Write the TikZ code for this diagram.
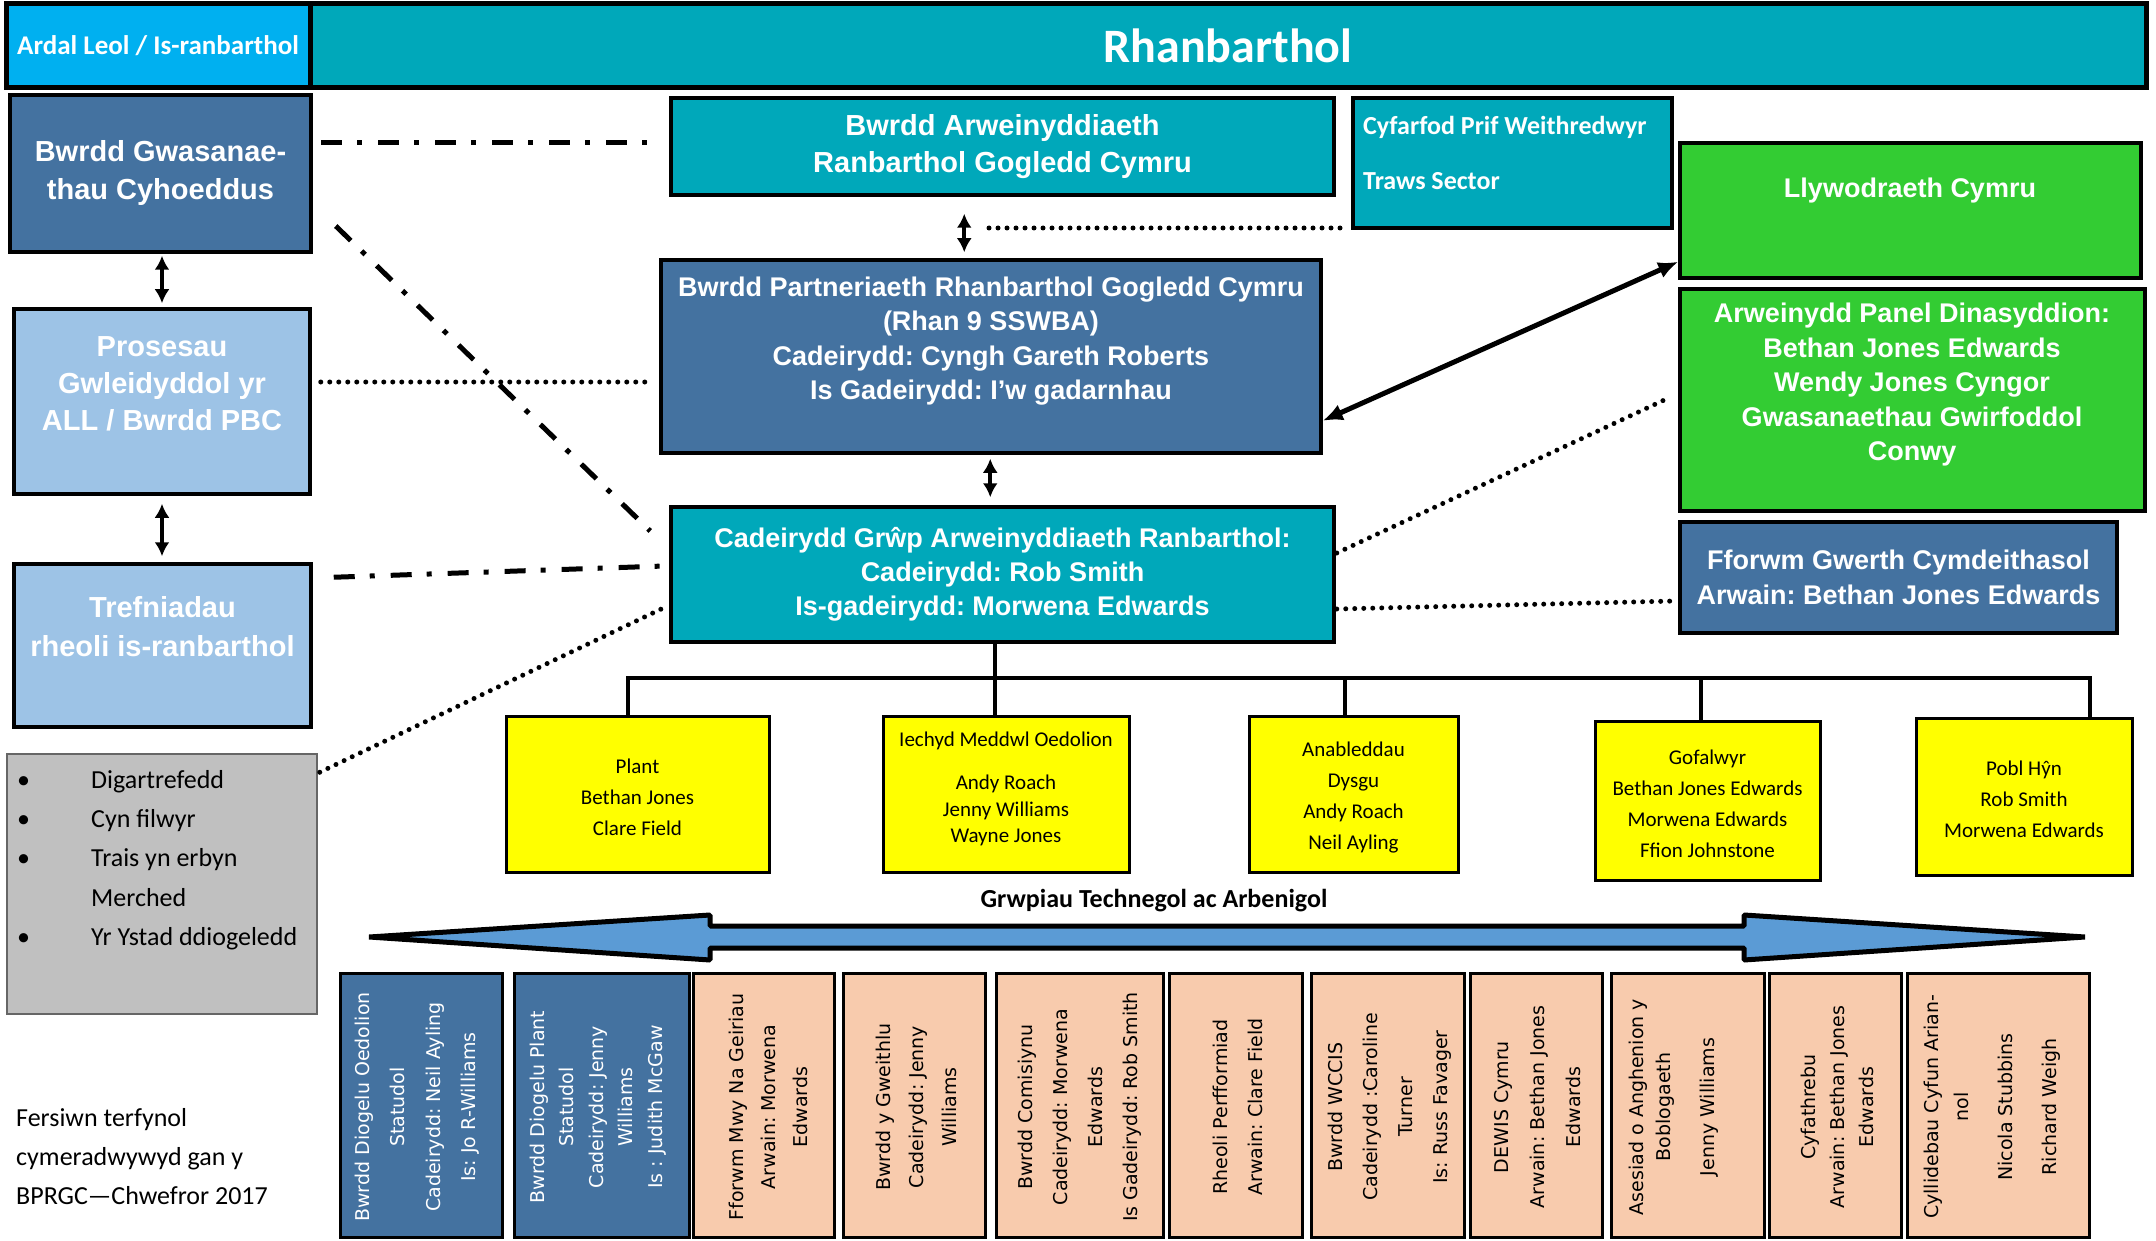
\documentclass[tikz,border=0pt]{standalone}
\usepackage{fontspec}
\setmainfont{Liberation Sans}
\newfontfamily\calfont{Carlito}
\newfontfamily\dvfont{DejaVu Sans}
\usetikzlibrary{arrows.meta,calc}
\definecolor{cCyan}{RGB}{0,176,240}
\definecolor{cTeal}{RGB}{0,168,186}
\definecolor{cSteel}{RGB}{68,114,160}
\definecolor{cLight}{RGB}{157,195,230}
\definecolor{cGreen}{RGB}{51,204,51}
\definecolor{cGray}{RGB}{192,192,192}
\definecolor{cYel}{RGB}{255,255,0}
\definecolor{cPeach}{RGB}{248,203,173}
\definecolor{cArrow}{RGB}{91,155,213}
\newcommand\rotfont[1]{\dvfont\fontsize{19}{#1}\selectfont}
\frenchspacing
\begin{document}
\frenchspacing
\begin{tikzpicture}[x=1pt,y=-1pt,
 box/.style={draw=black, line width=3.5pt, rectangle, inner sep=0pt},
 hd/.style={text=white, align=center, font=\bfseries\fontsize{29}{38}\selectfont},
 hs/.style={text=white, align=center, font=\bfseries\fontsize{27}{34.5}\selectfont},
 ylw/.style={box, line width=3pt, fill=cYel},
 yt/.style={align=center, inner sep=0pt, font=\calfont\fontsize{21}{31}\selectfont},
 bt/.style={box, line width=3pt, minimum height=264pt},
 rot/.style={rotate=90, align=center, inner sep=0pt},
 dbl/.style={line width=4pt, {Latex[length=14pt,width=15pt]}-{Latex[length=14pt,width=15pt]}},
 dotl/.style={line width=5pt, line cap=round, dash pattern=on 0pt off 9pt},
 ddot/.style={line width=5pt, dash pattern=on 21pt off 15pt on 5pt off 16pt},
 tree/.style={line width=4.5pt}
]
\fill[white] (0,0) rectangle (2156,1241);
\useasboundingbox (0,0) rectangle (2156,1241);

% banner
\node[box, line width=5pt, fill=cCyan, minimum width=304pt, minimum height=84pt, text=white,
      font=\calfont\bfseries\fontsize{27}{32}\selectfont] (banl) at (158,46) {Ardal Leol / Is-ranbarthol};
\node[box, line width=5pt, fill=cTeal, minimum width=1836pt, minimum height=84pt, text=white,
      font=\calfont\bfseries\fontsize{48}{56}\selectfont] (banr) at (1228,46) {Rhanbarthol};

% left column
\node[box, hd, fill=cSteel, minimum width=301pt, minimum height=157pt] (bgc) at (160.5,173.5) {Bwrdd Gwasanae-\\thau Cyhoeddus};
\node[box, fill=cLight, minimum width=296pt, minimum height=185pt] (pros) at (162,401.5) {};
\node[hd, font=\bfseries\fontsize{29}{37}\selectfont] (prosT) at (162,384) {Prosesau\\Gwleidyddol yr\\ALL / Bwrdd PBC};
\node[box, fill=cLight, minimum width=297pt, minimum height=163pt] (tref) at (162.5,645.5) {};
\node[hd, font=\bfseries\fontsize{29}{39}\selectfont] (trefT) at (162.5,627) {Trefniadau\\rheoli is-ranbarthol};
\node[draw=black!60, line width=1.5pt, fill=cGray, minimum width=310pt, minimum height=260pt, inner sep=0pt] (gray) at (162,884) {};
\node[anchor=north west, align=left, inner sep=0pt, font=\calfont\fontsize{26}{39.3}\selectfont] (grayT) at (17,770)
 {\makebox[74pt][l]{•}Digartrefedd\\\makebox[74pt][l]{•}Cyn filwyr\\\makebox[74pt][l]{•}Trais yn erbyn\\\makebox[74pt][l]{}Merched\\\makebox[74pt][l]{•}Yr Ystad ddiogeledd};
\node[anchor=north west, align=left, inner sep=0pt, font=\calfont\fontsize{26}{39}\selectfont] (fers) at (16,1108)
 {Fersiwn terfynol\\cymeradwywyd gan y\\BPRGC—Chwefror 2017};

% centre column
\node[box, hd, fill=cTeal, minimum width=663pt, minimum height=97pt, font=\bfseries\fontsize{29}{37.5}\selectfont] (bar) at (1002.5,146.5) {Bwrdd Arweinyddiaeth\\Ranbarthol Gogledd Cymru};
\node[box, fill=cTeal, minimum width=319pt, minimum height=130pt] (cpw) at (1512.5,163) {};
\node[anchor=west, align=left, inner sep=0pt, text=white, font=\calfont\bfseries\fontsize{26}{55}\selectfont] (cpwT) at (1363,153) {Cyfarfod Prif Weithredwyr\\Traws Sector};
\node[box, fill=cSteel, minimum width=660pt, minimum height=193pt] (bprg) at (991,356.5) {};
\node[hs] (bprgT) at (991,341) {Bwrdd Partneriaeth Rhanbarthol Gogledd Cymru\\(Rhan 9 SSWBA)\\Cadeirydd: Cyngh Gareth Roberts\\Is Gadeirydd: I’w gadarnhau};
\node[box, hs, fill=cTeal, minimum width=663pt, minimum height=135pt, font=\bfseries\fontsize{27}{34}\selectfont] (cga) at (1002.5,574.5) {Cadeirydd Grŵp Arweinyddiaeth Ranbarthol:\\Cadeirydd: Rob Smith\\Is-gadeirydd: Morwena Edwards};

% right column
\node[box, fill=cGreen, minimum width=461pt, minimum height=135pt] (llyw) at (1910.5,210.5) {};
\node[hs] (llywT) at (1910,191) {Llywodraeth Cymru};
\node[box, fill=cGreen, minimum width=465pt, minimum height=222pt] (apd) at (1912.5,400) {};
\node[hs] (apdT) at (1912,385) {Arweinydd Panel Dinasyddion:\\Bethan Jones Edwards\\Wendy Jones Cyngor\\Gwasanaethau Gwirfoddol\\Conwy};
\node[box, hs, fill=cSteel, minimum width=437pt, minimum height=111pt] (ffw) at (1898.5,577.5) {Fforwm Gwerth Cymdeithasol\\Arwain: Bethan Jones Edwards};

% yellow boxes
\node[ylw, minimum width=263pt, minimum height=156pt] (plant) at (637.5,794) {};
\node[yt] (plantT) at (637.5,797) {Plant\\Bethan Jones\\Clare Field};
\node[ylw, minimum width=246pt, minimum height=156pt] (iech) at (1006,794) {};
\node[yt, font=\calfont\fontsize{21}{26.5}\selectfont] (iechT) at (1006,789) {Iechyd Meddwl Oedolion\\[16.5pt]Andy Roach\\Jenny Williams\\Wayne Jones};
\node[ylw, minimum width=209pt, minimum height=156pt] (anab) at (1353.5,794) {};
\node[yt] (anabT) at (1353.5,798) {Anableddau\\Dysgu\\Andy Roach\\Neil Ayling};
\node[ylw, minimum width=225pt, minimum height=159pt] (gof) at (1707.5,800.5) {};
\node[yt] (gofT) at (1707.5,804) {Gofalwyr\\Bethan Jones Edwards\\Morwena Edwards\\Ffion Johnstone};
\node[ylw, minimum width=216pt, minimum height=157pt] (pobl) at (2024,796.5) {};
\node[yt] (poblT) at (2024,799) {Pobl Hŷn\\Rob Smith\\Morwena Edwards};

\node[font=\calfont\bfseries\fontsize{26}{30}\selectfont] (grw) at (1154,901) {Grwpiau Technegol ac Arbenigol};

% big double arrow
\draw[line width=5pt, fill=cArrow, line join=bevel] (369,937) -- (710,915) -- (710,926) -- (1744,926) -- (1744,915)
  -- (2085,937) -- (1744,960) -- (1744,948) -- (710,948) -- (710,960) -- cycle;

% bottom boxes
\node[bt, fill=cSteel, minimum width=162pt] (b1) at (421,1105) {};
\node[bt, fill=cSteel, minimum width=175pt] (b2) at (601.5,1105) {};
\node[bt, fill=cPeach, minimum width=141pt] (b3) at (763.5,1105) {};
\node[bt, fill=cPeach, minimum width=142pt] (b4) at (914,1105) {};
\node[bt, fill=cPeach, minimum width=167pt] (b5) at (1079.5,1105) {};
\node[bt, fill=cPeach, minimum width=133pt] (b6) at (1235.5,1105) {};
\node[bt, fill=cPeach, minimum width=153pt] (b7) at (1387.5,1105) {};
\node[bt, fill=cPeach, minimum width=132pt] (b8) at (1536,1105) {};
\node[bt, fill=cPeach, minimum width=153pt] (b9) at (1687.5,1105) {};
\node[bt, fill=cPeach, minimum width=132pt] (b10) at (1835,1105) {};
\node[bt, fill=cPeach, minimum width=182pt] (b11) at (1998,1105) {};

\node[rot, text=white, font=\rotfont{35.5}] (b1t) at (417,1107) {Bwrdd Diogelu Oedolion\\Statudol\\Cadeirydd: Neil Ayling\\Is: Jo R-Williams};
\node[rot, text=white, font=\rotfont{29.5}] (b2t) at (598,1107) {Bwrdd Diogelu Plant\\Statudol\\Cadeirydd: Jenny\\Williams\\Is : Judith McGaw};
\node[rot, font=\rotfont{32}] (b3t) at (768.5,1107) {Fforwm Mwy Na Geiriau\\Arwain: Morwena\\Edwards};
\node[rot, font=\rotfont{33}] (b4t) at (916,1107) {Bwrdd y Gweithlu\\Cadeirydd: Jenny\\Williams};
\node[rot, font=\rotfont{35}] (b5t) at (1079.5,1107) {Bwrdd Comisiynu\\Cadeirydd: Morwena\\Edwards\\Is Gadeirydd: Rob Smith};
\node[rot, font=\rotfont{34.5}] (b6t) at (1238,1107) {Rheoli Perfformiad\\Arwain: Clare Field};
\node[rot, font=\rotfont{35}] (b7t) at (1390,1107) {Bwrdd WCCIS\\Cadeirydd :Caroline\\Turner\\Is: Russ Favager};
\node[rot, font=\rotfont{36}] (b8t) at (1538,1107) {DEWIS Cymru\\Arwain: Bethan Jones\\Edwards};
\node[rot, font=\rotfont{27.3}] (b9t) at (1674,1107) {Asesiad o Anghenion y\\Boblogaeth\\[16.7pt]Jenny Williams};
\node[rot, font=\rotfont{29}] (b10t) at (1837,1107) {Cyfathrebu\\Arwain: Bethan Jones\\Edwards};
\node[rot, font=\rotfont{30.4}] (b11t) at (1992,1107) {Cyllidebau Cyfun Arian-\\nol\\[13.6pt]Nicola Stubbins\\[13.6pt]Richard Weigh};

% connectors
\draw[dbl, shorten <=2pt, shorten >=4pt] (bgc.south -| pros.north) -- (pros.north);
\draw[dbl, shorten <=8pt, shorten >=6pt] (pros.south) -- (pros.south |- tref.north);
\draw[dbl, shorten <=17pt, shorten >=6pt] ([xshift=295pt]bar.south west) -- ([xshift=305pt]bprg.north west);
\draw[dbl, shorten <=4pt, shorten >=8pt] ([xshift=331pt]bprg.south west) -- ([xshift=321pt]cga.north west);
\draw[line width=5pt, {Latex[length=20pt,width=17pt]}-{Latex[length=20pt,width=17pt]}] ([yshift=34pt]bprg.south east) -- ([yshift=18pt]llyw.south west);

\coordinate (dA) at (989,228);
\draw[dotl, shorten >=9pt] (dA) -- (cpw.west |- dA);
\coordinate (ddA) at (321,143);
\draw[ddot, shorten >=15pt] (ddA) -- (ddA -| bar.west);
\draw[ddot] ([shift={(23pt,-52.5pt)}]bgc.east) -- ([shift={(-19pt,43.5pt)}]cga.west);
\draw[dotl] ([shift={(9pt,19.5pt)}]pros.east) -- ([shift={(-10pt,-25.5pt)}]bprg.west);
\draw[ddot] ([shift={(21pt,-15pt)}]tref.north east) -- ([shift={(-5pt,8.5pt)}]cga.west);
\draw[dotl] ([shift={(2pt,-19pt)}]gray.north east) -- ([shift={(-8pt,-34.5pt)}]cga.west);
\draw[dotl] ([shift={(1pt,21.5pt)}]cga.east) -- ([shift={(-14pt,0pt)}]apd.west);
\draw[dotl] ([shift={(1pt,-34.5pt)}]cga.east) -- ([shift={(-3pt,-23.5pt)}]ffw.west);

% tree
\coordinate (tj) at (995,678);
\draw[tree] ([xshift=-7.5pt]cga.south) -- ([xshift=-11pt]iech.north);
\draw[tree] ([xshift=-9.5pt]plant.north) |- (tj) -| ([xshift=66pt]pobl.north);
\path ([xshift=-8.5pt]anab.north) coordinate (anabTop);
\draw[tree] (anabTop) -- (anabTop |- tj);
\path ([xshift=-6.5pt]gof.north) coordinate (gofTop);
\draw[tree] (gofTop) -- (gofTop |- tj);
\end{tikzpicture}
\end{document}
